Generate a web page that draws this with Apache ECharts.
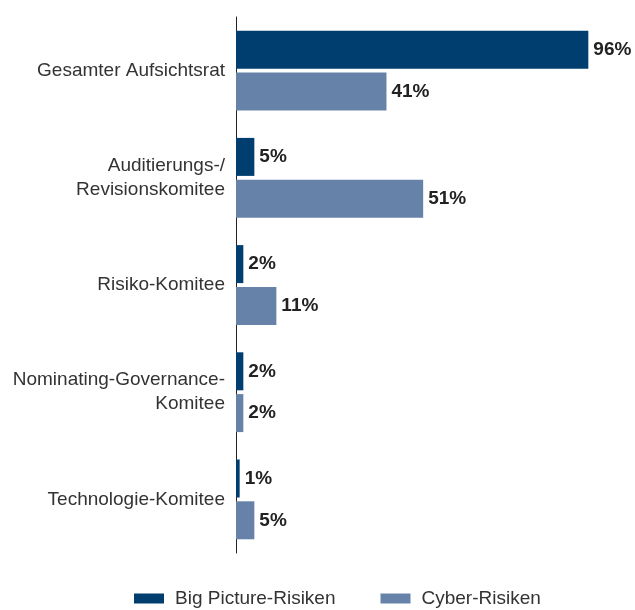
<!DOCTYPE html>
<html lang="de">
<head>
    <meta charset="UTF-8">
    <title>Komitees</title>
    <style>
        html, body { margin: 0; padding: 0; background: #fff; }
        #main { width: 635px; height: 610px; }
    </style>
</head>
<body>
<div id="main"></div>
<script src="https://cdn.jsdelivr.net/npm/echarts@6/dist/echarts.min.js"></script>
<script>
    // Daten
    const categories = [
        'Gesamter Aufsichtsrat',
        'Auditierungs-/\nRevisionskomitee',
        'Risiko-Komitee',
        'Nominating-Governance-\nKomitee',
        'Technologie-Komitee'
    ];
    const bigPicture = [96, 5, 2, 2, 1];
    const cyber = [41, 51, 11, 2, 5];
    const seriesNames = ['Big Picture-Risiken', 'Cyber-Risiken'];

    const fontFamily = '"Liberation Sans", Arial, sans-serif';

    const myChart = echarts.init(document.getElementById('main'));

    const valueLabel = {
        show: true,
        position: 'right',
        distance: 5,
        formatter: '{c}%',
        color: '#222',
        fontWeight: 'bold',
        fontSize: 19,
        fontFamily: fontFamily
    };

    myChart.setOption({
        animation: false,
        textStyle: { fontFamily: fontFamily },
        grid: { left: 236, right: 32, top: 17, bottom: 57 },
        legend: {
            bottom: -3,
            left: 129,
            itemWidth: 30,
            itemHeight: 10,
            itemGap: 45,
            icon: 'rect',
            textStyle: {
                fontSize: 19,
                color: '#333',
                fontFamily: fontFamily,
                padding: [0, 0, 0, 6]
            },
            data: seriesNames
        },
        xAxis: {
            type: 'value',
            min: 0,
            max: 100,
            show: false
        },
        yAxis: {
            type: 'category',
            inverse: true,
            data: categories,
            axisLine: { show: true, lineStyle: { color: '#222', width: 1 } },
            axisTick: { show: false },
            axisLabel: {
                margin: 11,
                fontSize: 19,
                lineHeight: 24,
                color: '#333',
                align: 'right',
                fontFamily: fontFamily
            }
        },
        series: [
            {
                name: seriesNames[0],
                type: 'bar',
                data: bigPicture,
                barWidth: 38,
                barGap: '10%',
                itemStyle: { color: '#003e6f' },
                label: valueLabel
            },
            {
                name: seriesNames[1],
                type: 'bar',
                data: cyber,
                barWidth: 38,
                barGap: '10%',
                itemStyle: { color: '#6682a9' },
                label: valueLabel
            }
        ]
    });
</script>
</body>
</html>
